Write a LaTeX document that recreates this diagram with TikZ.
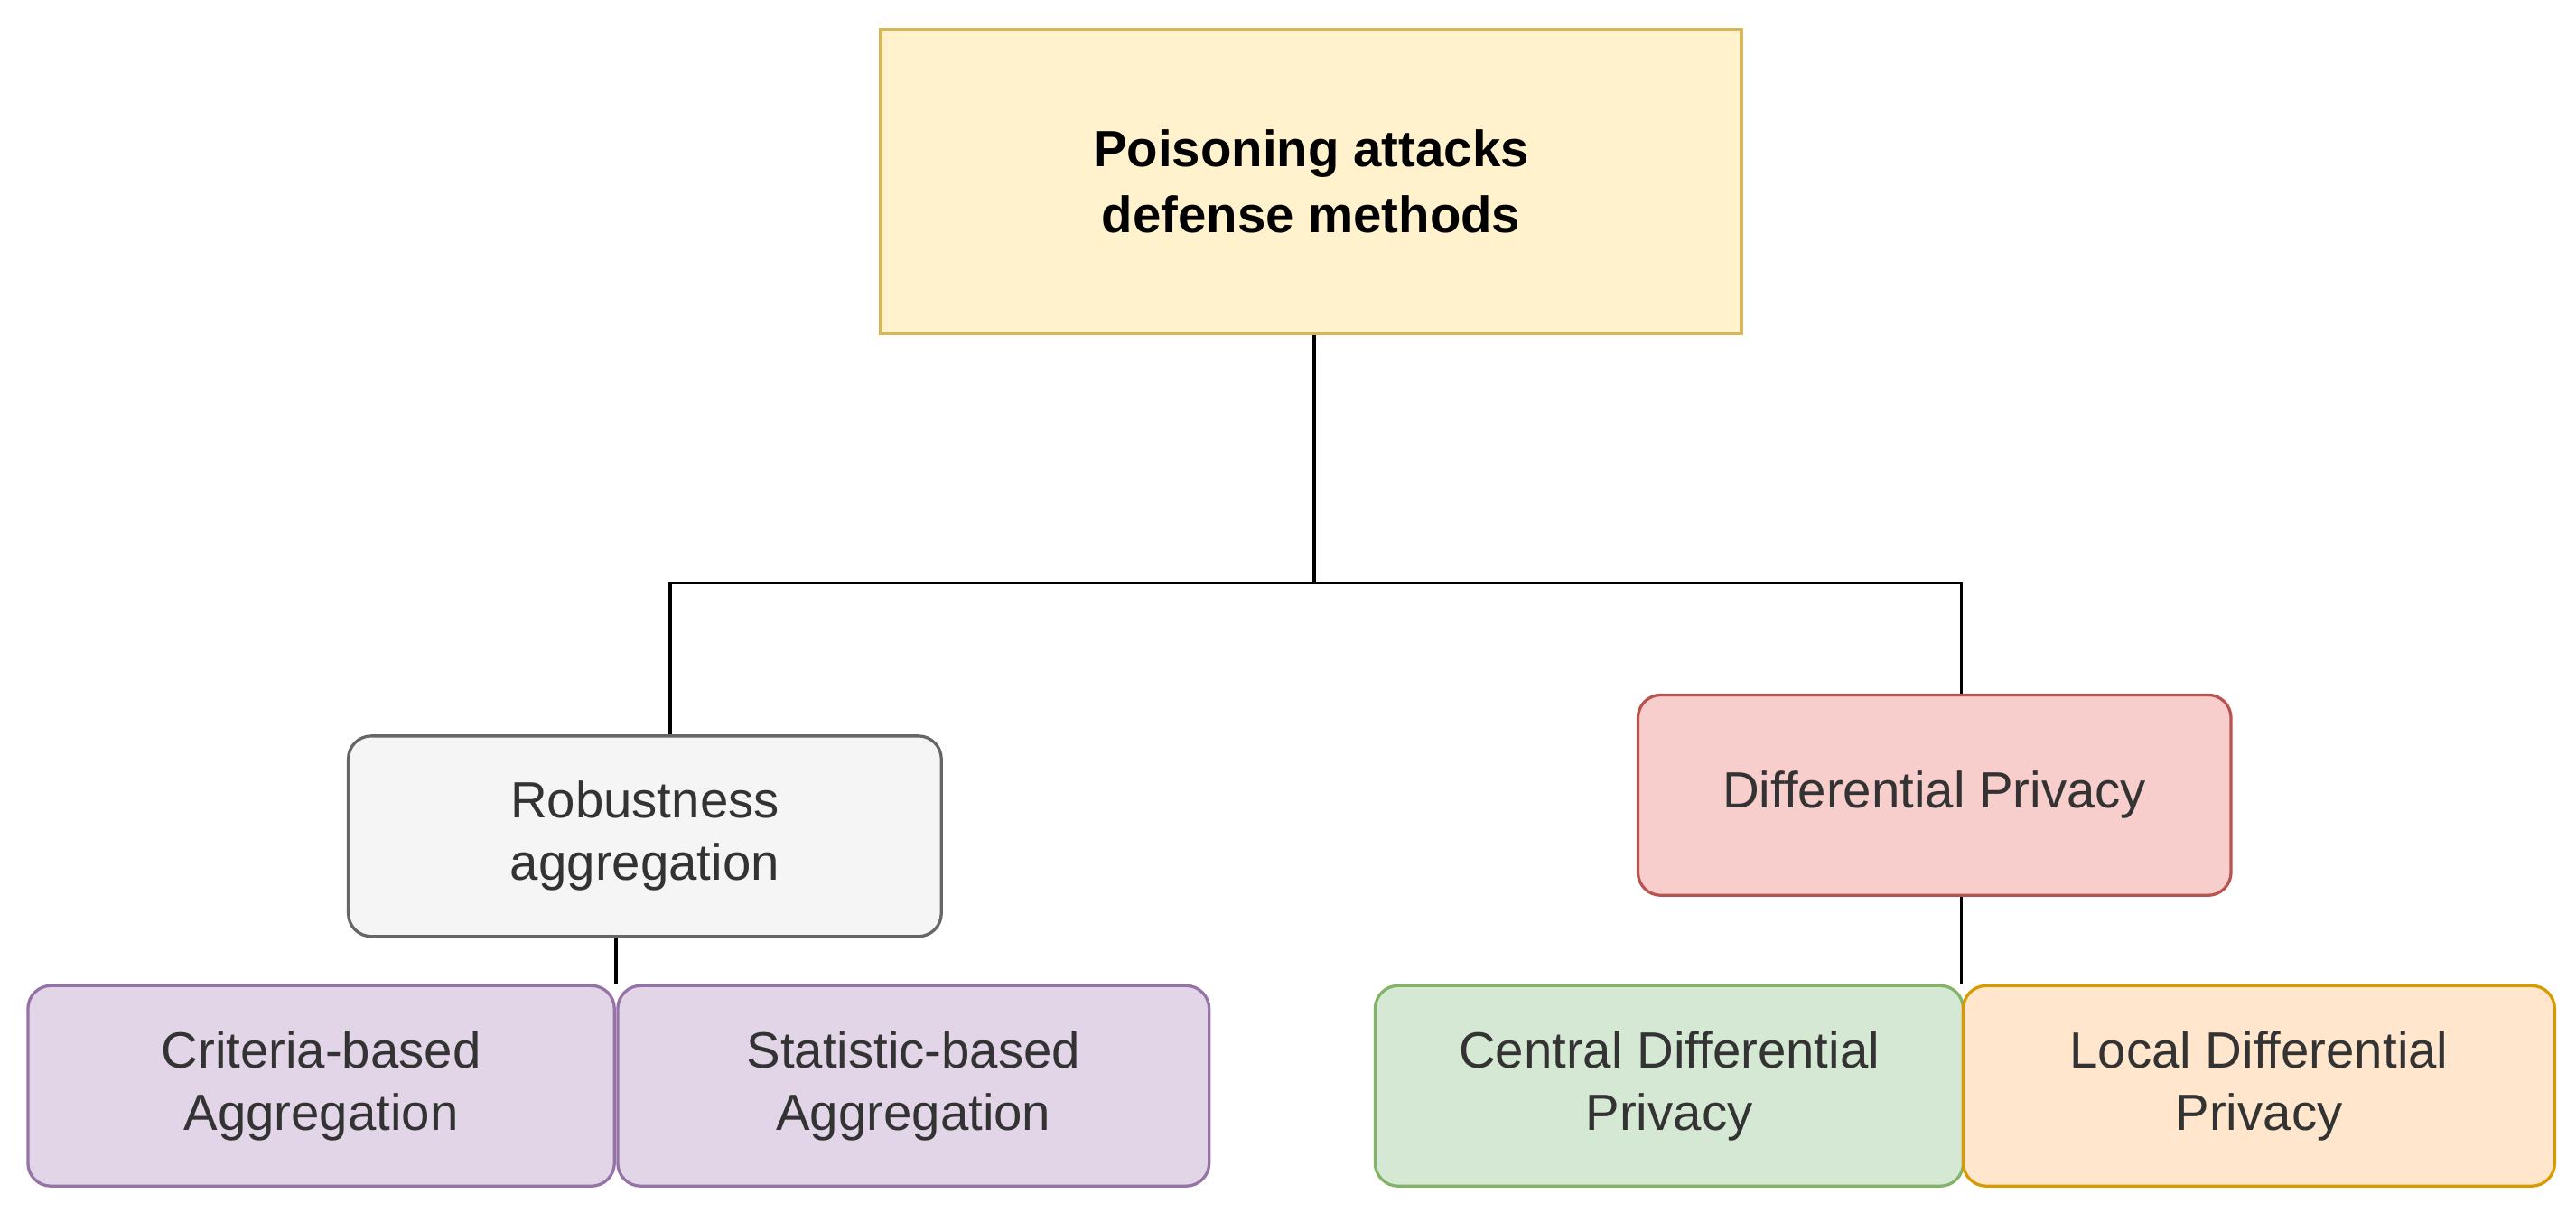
\documentclass[tikz,border=0pt]{standalone}
\usepackage{fontspec}
\setmainfont{Liberation Sans}
\begin{document}
\begin{tikzpicture}[x=1pt,y=-1pt,
 box/.style={draw,line width=1.8pt,rounded corners=14pt,align=center,font=\fontsize{31}{38}\selectfont,inner sep=0pt},
 ln/.style={line width=1.8pt,draw=black}]
\useasboundingbox (0,0) rectangle (1568,738);
\definecolor{tf}{HTML}{FFF2CC}\definecolor{tb}{HTML}{D6B656}
\definecolor{gf}{HTML}{F5F5F5}\definecolor{gb}{HTML}{666666}
\definecolor{rf}{HTML}{F8CECC}\definecolor{rb}{HTML}{B85450}
\definecolor{pf}{HTML}{E1D5E7}\definecolor{pb}{HTML}{9673A6}
\definecolor{nf}{HTML}{D5E8D4}\definecolor{nb}{HTML}{82B366}
\definecolor{of}{HTML}{FFE6CC}\definecolor{ob}{HTML}{D79B00}
\node[box,rounded corners=0pt,fill=tf,draw=tb,minimum width=524,minimum height=185,font=\bfseries\fontsize{31}{40}\selectfont] (top) at (798,110.5) {Poisoning attacks\\defense methods};
\node[box,fill=gf,draw=gb,text=black!80,minimum width=361,minimum height=122] (rob) at (392.5,509) {Robustness\\aggregation};
\node[box,fill=rf,draw=rb,text=black!80,minimum width=361,minimum height=122] (dp) at (1177.5,484) {Differential Privacy};
\node[box,fill=pf,draw=pb,text=black!80,minimum width=357,minimum height=122] (cr) at (195.5,661) {Criteria-based\\Aggregation};
\node[box,fill=pf,draw=pb,text=black!80,minimum width=360,minimum height=122] (st) at (556,661) {Statistic-based\\Aggregation};
\node[box,fill=nf,draw=nb,text=black!80,minimum width=358,minimum height=122] (ce) at (1016,661) {Central Differential\\Privacy};
\node[box,fill=of,draw=ob,text=black!80,minimum width=360,minimum height=122] (lo) at (1375,661) {Local Differential\\Privacy};
\coordinate (j) at (800,355);
\draw[ln] (top.south -| j) -- (j);
\draw[ln] (rob.north -| 408,0) |- (j) -| (dp.north -| 1194,0);
\draw[ln] (rob.south -| 375,0) -- (cr.north -| 375,0);
\draw[ln] (dp.south -| 1194,0) -- (ce.north -| 1194,0);
\end{tikzpicture}
\end{document}
